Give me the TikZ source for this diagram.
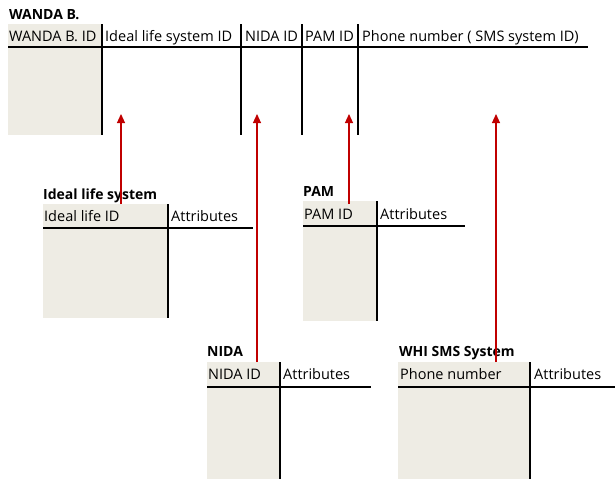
\documentclass[tikz,border=0pt]{standalone}
\usepackage{fontspec}
\setmainfont{Open Sans}
\usetikzlibrary{positioning, arrows.meta}
\definecolor{keygray}{RGB}{238,236,228}
\definecolor{fkred}{RGB}{192,0,0}

\begin{document}
\begin{tikzpicture}[x=1pt, y=-1pt,
  title/.style={anchor=base west, inner sep=0pt, font=\bfseries\fontsize{14}{16}\selectfont},
  head/.style={anchor=base west, inner sep=0pt, font=\fontsize{14.5}{17}\selectfont},
  keybox/.style={anchor=north west, fill=keygray, inner sep=0pt, outer sep=0pt},
  rule/.style={line width=1.6pt, black},
  fk/.style={fkred, line width=1.1pt, -{Triangle[length=9pt, width=8pt]}}]
\useasboundingbox (0,0) rectangle (615,479);

% WANDA B.
\node[keybox, minimum width=94pt, minimum height=111pt] (wanda-key) at (8,24) {};
\node[title] (wanda-title) at (9,19.5) {WANDA B.};
\node[head] (wanda-id) at (9,41) {WANDA B. ID};
\node[head] (wanda-ideal) at (105,41) {Ideal life system ID};
\node[head] (wanda-nida) at (245,41) {NIDA ID};
\node[head] (wanda-pam) at (305,41) {PAM ID};
\node[head] (wanda-phone) at (362,41) {Phone number ( SMS system ID)};
\draw[rule] (8,47) -- (588,47);
\foreach \x in {102,241,302,358}
  \draw[rule] (\x,24) -- (\x,135);

% Ideal life system
\node[keybox, minimum width=125pt, minimum height=114pt] (ideal-key) at (43,204) {};
\node[title] (ideal-title) at (43,199.5) {Ideal life system};
\node[head] (ideal-id) at (44,221.5) {Ideal life ID};
\node[head] (ideal-attr) at (171,221.5) {Attributes};
\draw[rule] (43,228) -- (253,228);
\draw[rule] (168,204) -- (168,318);

% PAM
\node[keybox, minimum width=74pt, minimum height=120pt] (pam-key) at (303,201) {};
\node[title] (pam-title) at (303,196.5) {PAM};
\node[head] (pam-id) at (304,219.5) {PAM ID};
\node[head] (pam-attr) at (380,219.5) {Attributes};
\draw[rule] (303,226) -- (465,226);
\draw[rule] (377,201) -- (377,321);

% NIDA
\node[keybox, minimum width=73pt, minimum height=117pt] (nida-key) at (207,362) {};
\node[title] (nida-title) at (207,356.5) {NIDA};
\node[head] (nida-id) at (208,379.5) {NIDA ID};
\node[head] (nida-attr) at (283,379.5) {Attributes};
\draw[rule] (207,387) -- (371,387);
\draw[rule] (280,362) -- (280,479);

% WHI SMS System
\node[keybox, minimum width=132pt, minimum height=117pt] (sms-key) at (398,362) {};
\node[title] (sms-title) at (399,356.5) {WHI SMS System};
\node[head] (sms-id) at (400,379.5) {Phone number};
\node[head] (sms-attr) at (534,379.5) {Attributes};
\draw[rule] (398,387) -- (615,387);
\draw[rule] (530,362) -- (530,479);

% references
\coordinate (ideal-ref) at (121,114);
\coordinate (nida-ref) at (257,114);
\coordinate (pam-ref) at (349,114);
\coordinate (sms-ref) at (496,114);
\draw[fk] (ideal-key.north -| ideal-ref) -- (ideal-ref);
\draw[fk] (nida-key.north -| nida-ref) -- (nida-ref);
\draw[fk] ([yshift=-3pt]pam-key.north -| pam-ref) -- (pam-ref);
\draw[fk] (sms-key.north -| sms-ref) -- (sms-ref);
\end{tikzpicture}
\end{document}
